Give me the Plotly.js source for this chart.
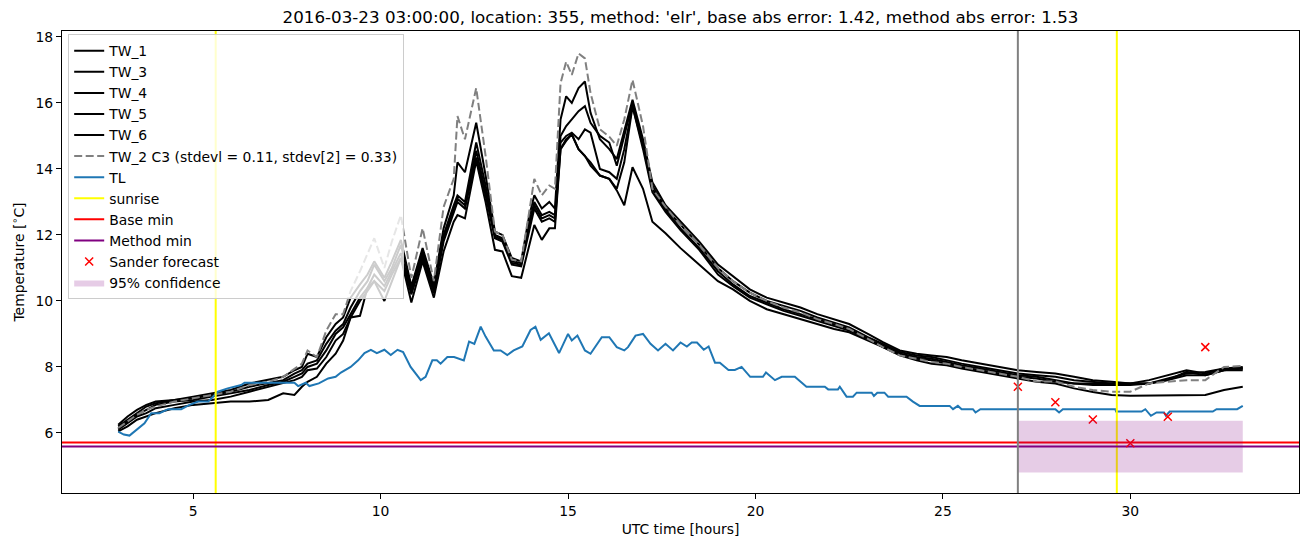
<!DOCTYPE html>
<html>
<head>
<meta charset="utf-8">
<script src="https://cdn.plot.ly/plotly-3.0.1.min.js"></script>
<style>html,body{margin:0;padding:0;background:#fff;}#chart{width:1311px;height:547px;}</style>
</head>
<body>
<div id="chart"></div>
<script>
// ---- data ----
const hours = [
  3.0, 3.25, 3.5, 3.75, 4.0, 4.5, 5.0, 5.5, 6.0, 6.5,
  7.0, 7.4, 7.7, 7.9, 8.05, 8.3, 8.55, 8.8, 9.0, 9.2,
  9.45, 9.65, 9.83, 10.1, 10.3, 10.54, 10.82, 11.12, 11.42, 11.68,
  11.95, 12.05, 12.25, 12.55, 12.8, 13.05, 13.25, 13.5, 13.75, 13.95,
  14.1, 14.3, 14.5, 14.65, 14.8, 14.95, 15.1, 15.28, 15.45, 15.6,
  15.85, 16.1, 16.3, 16.5, 16.72, 17.0, 17.25, 17.6, 18.0, 18.5,
  19.0, 19.4, 19.85, 20.3, 20.75, 21.2, 21.65, 22.1, 22.5, 23.0,
  23.4, 23.85, 24.3, 24.7, 25.1, 25.5, 26.0, 26.5, 27.0, 27.5,
  28.0, 28.5, 29.0, 29.5, 30.0, 30.5, 31.0, 31.5, 32.0, 32.5,
  33.0
];
const tw1 = [
  6.25, 6.5, 6.7, 6.85, 6.95, 7.0, 7.1, 7.2, 7.3, 7.5,
  7.6, 7.7, 7.9, 8.0, 8.4, 8.3, 8.9, 9.3, 9.5, 10.1,
  10.5, 10.8, 11.2, 10.7, 11.2, 11.85, 10.45, 11.6, 10.5, 12.2,
  13.2, 14.2, 13.9, 15.4, 13.8, 12.1, 12.0, 11.3, 11.2, 12.5,
  13.2, 12.8, 13.0, 12.8, 15.5, 16.2, 16.0, 16.45, 16.65, 15.7,
  14.9, 14.6, 14.3, 15.2, 16.1, 14.9, 13.6, 12.9, 12.4, 11.8,
  11.1, 10.75, 10.35, 10.1, 9.95, 9.8, 9.6, 9.45, 9.3, 9.0,
  8.75, 8.5, 8.4, 8.35, 8.3, 8.2, 8.1, 8.0, 7.9, 7.85,
  7.8, 7.7, 7.6, 7.55, 7.5, 7.6, 7.75, 7.9, 7.8, 7.95,
  8.0
];
const tw3 = [
  6.2, 6.4, 6.6, 6.8, 6.9, 7.0, 7.05, 7.15, 7.25, 7.4,
  7.5, 7.6, 7.8, 7.9, 8.1, 8.2, 8.7, 9.1, 9.3, 9.8,
  10.3, 10.6, 11.1, 10.6, 11.0, 11.7, 10.4, 11.5, 10.45, 12.0,
  12.9, 13.2, 13.0, 14.8, 13.5, 12.0, 11.9, 11.2, 11.15, 12.3,
  13.0, 12.6, 12.7, 12.6, 15.0, 15.3, 15.5, 15.75, 15.9, 15.4,
  15.0, 14.8, 14.1, 15.0, 16.0, 14.8, 13.5, 12.8, 12.3, 11.7,
  11.0, 10.6, 10.25, 10.0, 9.85, 9.7, 9.5, 9.35, 9.2, 8.9,
  8.7, 8.45, 8.35, 8.3, 8.2, 8.1, 8.0, 7.9, 7.8, 7.75,
  7.7, 7.6, 7.55, 7.5, 7.5, 7.5, 7.6, 7.85, 7.75, 7.9,
  7.95
];
const tw4 = [
  6.15, 6.35, 6.55, 6.7, 6.85, 6.95, 7.0, 7.1, 7.2, 7.3,
  7.45, 7.55, 7.7, 7.8, 8.0, 8.1, 8.5, 9.0, 9.2, 9.6,
  10.1, 10.4, 10.8, 10.45, 10.9, 11.45, 10.3, 11.4, 10.35, 11.9,
  12.8, 13.1, 12.9, 14.55, 13.3, 11.95, 11.85, 11.15, 11.1, 12.2,
  12.9, 12.5, 12.6, 12.5, 14.8, 15.0, 15.1, 14.9, 15.2, 15.1,
  14.0, 13.9, 13.7, 14.6, 15.9, 14.7, 13.4, 12.75, 12.2, 11.6,
  10.9, 10.5, 10.15, 9.95, 9.75, 9.6, 9.45, 9.3, 9.15, 8.85,
  8.65, 8.4, 8.3, 8.25, 8.15, 8.05, 7.95, 7.85, 7.75, 7.7,
  7.6, 7.5, 7.5, 7.5, 7.5, 7.5, 7.65, 7.8, 7.85, 7.95,
  7.95
];
const tw5 = [
  6.1, 6.3, 6.5, 6.6, 6.75, 6.85, 6.95, 7.0, 7.1, 7.25,
  7.4, 7.5, 7.6, 7.7, 7.9, 7.95, 8.3, 8.8, 9.0, 9.5,
  10.0, 10.3, 10.6, 10.3, 10.8, 11.3, 10.2, 11.3, 10.25, 11.8,
  12.7, 13.0, 12.8, 14.35, 13.2, 11.9, 11.8, 11.1, 11.05, 12.1,
  12.8, 12.4, 12.5, 12.4, 14.6, 14.85, 15.05, 14.6, 14.4, 14.1,
  13.8, 13.7, 13.4, 14.2, 15.9, 14.6, 13.3, 12.7, 12.15, 11.55,
  10.8, 10.45, 10.1, 9.9, 9.7, 9.55, 9.4, 9.25, 9.1, 8.85,
  8.6, 8.4, 8.25, 8.2, 8.1, 8.0, 7.9, 7.8, 7.7, 7.65,
  7.55, 7.5, 7.45, 7.45, 7.45, 7.5, 7.6, 7.75, 7.75, 7.9,
  7.9
];
const tw6 = [
  6.05, 6.2, 6.4, 6.5, 6.6, 6.75, 6.85, 6.9, 6.95, 6.95,
  7.0, 7.2, 7.15, 7.4, 7.55, 7.7, 8.1, 8.4, 8.8, 9.5,
  9.55, 10.4, 10.6, 10.0, 10.6, 11.3, 9.95, 11.2, 10.1, 11.5,
  12.4, 12.6, 12.5, 14.25, 13.0, 11.55, 11.5, 10.75, 10.7, 11.6,
  12.3, 11.85, 12.2, 12.2, 14.6, 14.9, 15.05, 14.6, 14.4, 14.2,
  13.8, 13.7, 13.35, 12.9, 14.05, 13.4, 12.4, 12.05, 11.6, 11.1,
  10.6, 10.35, 10.0, 9.75, 9.6, 9.45, 9.3, 9.15, 9.05, 8.8,
  8.6, 8.35, 8.2, 8.1, 8.05, 7.95, 7.85, 7.75, 7.65, 7.55,
  7.5, 7.35, 7.24, 7.15, 7.13, 7.13, 7.13, 7.13, 7.15, 7.3,
  7.4
];
const tw2 = [
  6.15, 6.35, 6.55, 6.7, 6.8, 6.95, 7.05, 7.15, 7.25, 7.45,
  7.55, 7.7, 7.95, 8.1, 8.5, 8.3, 9.1, 9.6, 9.6, 10.3,
  10.9, 11.4, 11.9, 11.0, 11.8, 12.6, 10.7, 12.2, 10.6, 12.85,
  13.7, 15.6, 14.9, 16.45, 14.4, 12.1, 12.0, 11.25, 11.2, 12.6,
  13.7, 13.2, 13.5, 13.4, 16.6, 17.25, 16.85, 17.5, 17.35, 16.3,
  15.2, 14.98, 14.7, 15.5, 16.7, 15.3, 13.4, 12.85, 12.3, 11.7,
  11.0, 10.6, 10.25, 10.0, 9.8, 9.65, 9.45, 9.3, 9.15, 8.85,
  8.6, 8.35, 8.25, 8.15, 8.1, 8.0, 7.9, 7.8, 7.7, 7.56,
  7.56, 7.4, 7.3, 7.25, 7.25, 7.5, 7.55, 7.6, 7.6, 8.0,
  8.03
];
const tlHours = [
  3.0, 3.15, 3.3, 3.44, 3.7, 3.88, 4.1, 4.33, 4.68, 4.9,
  5.13, 5.4, 5.57, 5.66, 5.92, 6.28, 6.37, 7.7, 7.8, 8.0,
  8.1, 8.35, 8.6, 8.8, 8.94, 9.2, 9.4, 9.57, 9.74, 9.9,
  10.1, 10.27, 10.45, 10.6, 10.8, 11.07, 11.2, 11.38, 11.5, 11.6,
  11.78, 11.96, 12.22, 12.36, 12.5, 12.67, 12.8, 13.02, 13.2, 13.38,
  13.55, 13.78, 14.0, 14.13, 14.27, 14.49, 14.76, 15.0, 15.1, 15.25,
  15.45, 15.6, 15.9, 16.1, 16.3, 16.5, 16.6, 16.8, 17.0, 17.2,
  17.4, 17.6, 17.8, 18.0, 18.17, 18.3, 18.44, 18.62, 18.75, 18.92,
  19.05, 19.28, 19.45, 19.63, 19.86, 20.2, 20.28, 20.52, 20.7, 21.05,
  21.36, 21.85, 21.94, 22.2, 22.25, 22.43, 22.6, 22.7, 23.1, 23.16,
  23.25, 23.44, 23.54, 24.03, 24.2, 24.38, 25.18, 25.27, 25.4, 25.5,
  25.8, 25.87, 26.0, 28.0, 28.1, 28.2, 29.6, 29.62, 30.3, 30.4,
  30.55, 30.7, 30.9, 30.95, 31.05, 32.2, 32.3, 32.85, 33.0
];
const tlValues = [
  6.04, 5.95, 5.92, 6.04, 6.29, 6.6, 6.6, 6.72, 6.72, 6.85,
  6.95, 6.95, 7.15, 7.25, 7.35, 7.45, 7.52, 7.52, 7.42, 7.52,
  7.42, 7.5, 7.65, 7.7, 7.83, 8.0, 8.2, 8.42, 8.52, 8.42,
  8.52, 8.36, 8.52, 8.45, 8.0, 7.6, 7.7, 8.2, 8.2, 8.1,
  8.3, 8.3, 8.2, 8.77, 8.7, 9.22, 8.92, 8.5, 8.5, 8.36,
  8.5, 8.62, 9.12, 9.22, 8.82, 9.02, 8.42, 9.0, 8.8, 8.95,
  8.5, 8.4, 8.9, 8.9, 8.6, 8.5, 8.6, 8.95, 9.0, 8.7,
  8.5, 8.7, 8.5, 8.74, 8.62, 8.74, 8.74, 8.52, 8.62, 8.13,
  8.13, 7.91, 7.91, 8.0, 7.7, 7.7, 7.83, 7.6, 7.7, 7.7,
  7.4, 7.4, 7.32, 7.32, 7.4, 7.1, 7.1, 7.22, 7.22, 7.12,
  7.22, 7.22, 7.1, 7.1, 6.95, 6.82, 6.82, 6.72, 6.82, 6.72,
  6.72, 6.62, 6.72, 6.72, 6.62, 6.72, 6.72, 6.65, 6.65, 6.72,
  6.52, 6.62, 6.62, 6.52, 6.65, 6.65, 6.72, 6.72, 6.82
];
const sunriseHours = [5.6, 29.64];
const forecastTimeHour = 27.0;
const baseMin = 5.71;
const methodMin = 5.59;
const sanderHours = [27, 28, 29, 30, 31, 32];
const sanderValues = [7.40, 6.93, 6.41, 5.69, 6.49, 8.60];
const confHours = [27, 33];
const confLow = 4.80;
const confHigh = 6.37;
const twLabels = ['TW_1', 'TW_3', 'TW_4', 'TW_5', 'TW_6'];
const tw2Label = 'TW_2 C3 (stdevl = 0.11, stdev[2] = 0.33)';
const titleText = "2016-03-23 03:00:00, location: 355, method: 'elr', base abs error: 1.42, method abs error: 1.53";

// ---- chart ----
const xRange = [1.5, 34.5];
const yRange = [4.18, 18.18];
const traces = [];
[tw1, tw3, tw4, tw5, tw6].forEach((vals, i) => {
  traces.push({x: hours, y: vals, type: 'scatter', mode: 'lines', name: twLabels[i],
    line: {color: 'black', width: 2}});
});
traces.push({x: hours, y: tw2, type: 'scatter', mode: 'lines', name: tw2Label,
  line: {color: '#808080', width: 2, dash: '8px,3.5px'}});
traces.push({x: tlHours, y: tlValues, type: 'scatter', mode: 'lines', name: 'TL',
  line: {color: '#1f77b4', width: 2}});
const sx = [], sy = [];
sunriseHours.forEach(h => { sx.push(h, h, null); sy.push(yRange[0], yRange[1], null); });
traces.push({x: sx, y: sy, type: 'scatter', mode: 'lines', name: 'sunrise',
  line: {color: '#ffff00', width: 2}});
traces.push({x: xRange, y: [baseMin, baseMin], type: 'scatter', mode: 'lines', name: 'Base min',
  line: {color: 'red', width: 2}});
traces.push({x: xRange, y: [methodMin, methodMin], type: 'scatter', mode: 'lines', name: 'Method min',
  line: {color: 'purple', width: 2}});
traces.push({x: sanderHours, y: sanderValues, type: 'scatter', mode: 'markers', name: 'Sander forecast',
  marker: {symbol: 'x-thin', size: 8, color: 'red', line: {color: 'red', width: 1.5}}});
traces.push({x: [confHours[0], confHours[1], confHours[1], confHours[0], confHours[0]],
  y: [confLow, confLow, confHigh, confHigh, confLow], type: 'scatter', mode: 'lines',
  fill: 'toself', fillcolor: 'rgba(128,0,128,0.2)', line: {width: 0, color: 'rgba(128,0,128,0)'},
  name: '95% confidence'});
traces.push({x: [forecastTimeHour, forecastTimeHour], y: yRange, type: 'scatter', mode: 'lines',
  showlegend: false, line: {color: '#808080', width: 2}});

const FS = 13.9;
const layout = {
  width: 1311, height: 547,
  margin: {l: 62, r: 12, t: 31, b: 54},
  paper_bgcolor: 'white', plot_bgcolor: 'white',
  font: {family: 'DejaVu Sans', size: FS, color: 'black'},
  showlegend: true,
  title: {text: titleText, font: {size: 16.7, color: 'black'}, x: 0.5, xref: 'paper', xanchor: 'center',
    y: 1 - 17 / 547, yref: 'container', yanchor: 'middle'},
  xaxis: {range: xRange, tickvals: [5, 10, 15, 20, 25, 30], ticks: 'outside', ticklen: 5, tickwidth: 1,
    tickcolor: 'black', showline: true, mirror: true, linecolor: 'black', linewidth: 1,
    showgrid: false, zeroline: false, tickfont: {size: FS},
    title: {text: 'UTC time [hours]', standoff: 6, font: {size: FS}}},
  yaxis: {range: yRange, tickvals: [6, 8, 10, 12, 14, 16, 18], ticks: 'outside', ticklen: 5, tickwidth: 1,
    tickcolor: 'black', showline: true, mirror: true, linecolor: 'black', linewidth: 1,
    showgrid: false, zeroline: false, tickfont: {size: FS},
    title: {text: 'Temperature [<sup>∘</sup>C]', standoff: 7, font: {size: FS}}},
  legend: {x: 0.005, y: 0.993, xanchor: 'left', yanchor: 'top', bgcolor: 'rgba(255,255,255,0.8)',
    bordercolor: '#cccccc', borderwidth: 1, font: {size: FS}, itemwidth: 30, tracegroupgap: 0}
};
Plotly.newPlot('chart', traces, layout, {staticPlot: true, displayModeBar: false});
</script>
</body>
</html>
